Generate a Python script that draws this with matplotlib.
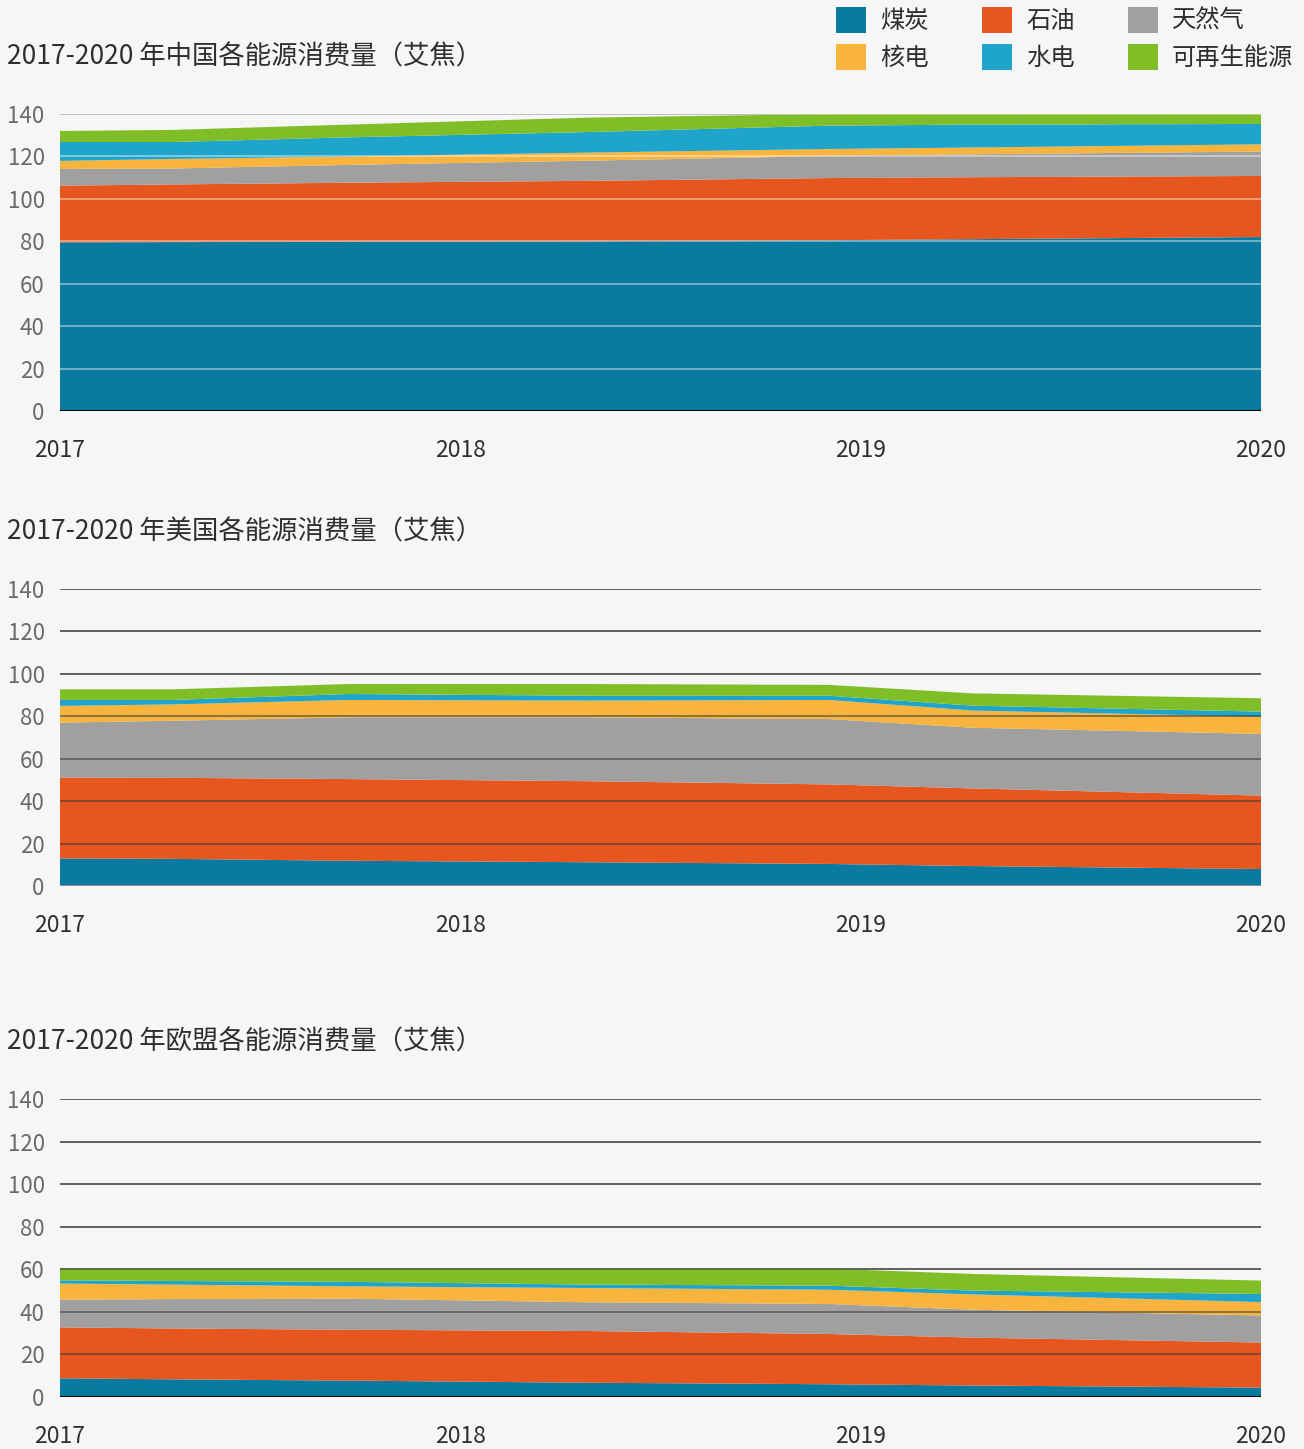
import numpy as np
import matplotlib
matplotlib.use("Agg")
import matplotlib.pyplot as plt
from matplotlib.patches import Rectangle

plt.rcParams["font.family"] = ["Noto Sans CJK SC", "DejaVu Sans"]

# ----------------------------------------------------
# Data (exajoules)
# ----------------------------------------------------

years = [2017.0, 2017.28, 2017.72, 2018.32, 2018.92, 2019.28, 2020.0]

sources = ["煤炭", "石油", "天然气", "核电", "水电", "可再生能源"]
colors = ["#0a7ba0", "#e8561f", "#9fa09f", "#f8b43c", "#1fa4cb", "#80be27"]

china_coal = [79.5, 79.6, 79.8, 80.0, 80.5, 81.0, 82.0]
china_oil = [26.7, 27.2, 27.8, 28.5, 29.3, 29.2, 28.8]
china_gas = [7.9, 7.5, 8.4, 9.5, 10.4, 10.8, 11.5]
china_nuclear = [3.8, 4.5, 4.0, 3.8, 3.3, 3.2, 3.4]
china_hydro = [8.9, 8.0, 9.0, 9.7, 11.0, 10.8, 9.6]
china_renew = [5.2, 5.7, 6.0, 6.8, 5.5, 5.0, 4.7]

us_coal = [13.0, 12.8, 11.9, 11.2, 10.4, 9.4, 8.0]
us_oil = [38.1, 38.2, 38.5, 38.2, 37.5, 36.6, 34.6]
us_gas = [25.9, 26.9, 29.1, 30.1, 30.8, 28.6, 29.1]
us_nuclear = [7.9, 7.7, 8.2, 7.9, 9.0, 8.1, 8.1]
us_hydro = [2.8, 2.1, 2.8, 2.3, 2.0, 2.3, 2.4]
us_renew = [5.0, 5.0, 4.7, 5.5, 5.1, 5.8, 6.3]

eu_coal = [8.8, 8.3, 7.7, 6.7, 6.0, 5.4, 4.4]
eu_oil = [23.9, 23.9, 23.9, 24.3, 23.6, 22.5, 21.2]
eu_gas = [13.0, 13.8, 14.6, 13.5, 14.1, 13.1, 12.7]
eu_nuclear = [7.6, 6.8, 5.8, 6.7, 6.7, 7.2, 6.3]
eu_hydro = [1.5, 1.7, 2.1, 1.6, 1.9, 1.8, 3.8]
eu_renew = [5.5, 5.8, 6.2, 7.5, 8.0, 7.8, 6.3]

titles = [
    "2017-2020 年中国各能源消费量（艾焦）",
    "2017-2020 年美国各能源消费量（艾焦）",
    "2017-2020 年欧盟各能源消费量（艾焦）",
]

year_ticks = [2017, 2018, 2019, 2020]
y_ticks = [0, 20, 40, 60, 80, 100, 120, 140]

# ----------------------------------------------------
# Figure
# ----------------------------------------------------

BG = "#f5f6f5"
W, H = 1304, 1449

fig = plt.figure(figsize=(W / 100, H / 100), dpi=100, facecolor=BG)

panels = [
    (114, 411, [china_coal, china_oil, china_gas, china_nuclear, china_hydro, china_renew],
     "#ffffff", 0.45, "black"),
    (589, 886, [us_coal, us_oil, us_gas, us_nuclear, us_hydro, us_renew],
     "#3a3a3a", 0.6, "#8a8a8a"),
    (1099, 1397, [eu_coal, eu_oil, eu_gas, eu_nuclear, eu_hydro, eu_renew],
     "#3a3a3a", 0.6, "black"),
]

left_px, right_px = 60, 1261

for (top_px, bot_px, series, over_color, over_alpha, base_color), title in zip(panels, titles):

    ax = fig.add_axes([
        left_px / W,
        1 - bot_px / H,
        (right_px - left_px) / W,
        (bot_px - top_px) / H,
    ])
    ax.set_facecolor(BG)

    ax.stackplot(years, *series, colors=colors, zorder=2, lw=0)

    # grid behind (visible over background) and on top (visible over fills)
    for yv in y_ticks[1:]:
        ax.axhline(yv, color="#8a8a8a", lw=1.3, zorder=1)
        ax.axhline(yv, color=over_color, lw=1.3, alpha=over_alpha, zorder=3)
    ax.axhline(0, color=base_color, lw=2.2, zorder=4)

    ax.set_xlim(2017, 2020)
    ax.set_ylim(0, 140)
    ax.set_yticks(y_ticks)
    ax.set_xticks(year_ticks)
    ax.set_xticklabels([str(y) for y in year_ticks])

    ax.tick_params(axis="y", length=0, pad=11, labelsize=16, labelcolor="#6a6a6a")
    ax.tick_params(axis="x", length=0, pad=20, labelsize=16.5, labelcolor="#2e2e2e")

    for s in ax.spines.values():
        s.set_visible(False)

    fig.text(7 / W, 1 - (top_px - 57) / H, title,
             fontsize=19, color="#2e2e2e", va="center", ha="left")

# ----------------------------------------------------
# Legend
# ----------------------------------------------------

col_x = [836, 982, 1128]
row_y = [20, 57]

for i, (name, c) in enumerate(zip(sources, colors)):
    r, k = divmod(i, 3)
    x0 = col_x[k]
    yc = row_y[r]
    fig.patches.append(Rectangle(
        (x0 / W, 1 - (yc + 12.5) / H), 30 / W, 25 / H,
        transform=fig.transFigure, facecolor=c, edgecolor="none"
    ))
    fig.text((x0 + 44) / W, 1 - (yc + 1) / H, name,
             fontsize=17.5, color="#2e2e2e", va="center", ha="left")

fig.savefig("out.png", dpi=100, facecolor=BG)
